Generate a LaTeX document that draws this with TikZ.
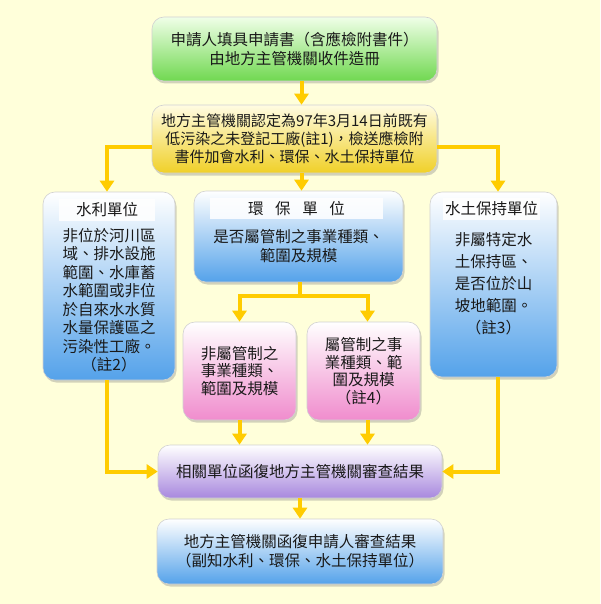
\documentclass[tikz,border=0pt]{standalone}
\usepackage{fontspec}
\newfontfamily\cjk{Noto Sans CJK TC}
\usetikzlibrary{arrows.meta,shadows}
\definecolor{bgy}{RGB}{255,255,218}
\definecolor{arrowy}{RGB}{255,204,0}
\definecolor{txt}{RGB}{25,25,25}
\definecolor{grnB}{RGB}{112,216,80}
\definecolor{grnT}{RGB}{240,255,232}
\definecolor{ylwB}{RGB}{240,208,40}
\definecolor{ylwT}{RGB}{255,252,226}
\definecolor{bluB}{RGB}{84,162,234}
\definecolor{bluM}{RGB}{196,224,250}
\definecolor{pnkB}{RGB}{240,140,205}
\definecolor{pnkM}{RGB}{252,215,236}
\definecolor{purB}{RGB}{168,136,222}
\definecolor{purM}{RGB}{222,206,248}
\pgfdeclareradialshading{bgrad}{\pgfpoint{0bp}{0bp}}{color(0bp)=(bgy); color(36bp)=(bgy); color(72bp)=(white)}
\tikzset{
  box/.style={rounded corners=12pt, draw=black!18, line width=0.6pt, inner sep=0pt,
    align=center, text=txt, font=\cjk\fontsize{15.5}{19}\selectfont,
    drop shadow={opacity=0.35, shadow xshift=1.5pt, shadow yshift=-2.5pt}},
  greenbox/.style={box, top color=grnT, bottom color=grnB},
  yellowbox/.style={box, top color=ylwT, bottom color=ylwB},
  bluebox/.style={box, top color=white, middle color=bluM, bottom color=bluB},
  pinkbox/.style={box, top color=white, middle color=pnkM, bottom color=pnkB},
  purplebox/.style={box, top color=white, middle color=purM, bottom color=purB},
  header/.style={fill=white, fill opacity=0.85, text opacity=1, inner sep=0pt, text=txt,
    font=\cjk\fontsize{15.5}{19}\selectfont},
  bodytext/.style={inner sep=0pt, align=center, text=txt, font=\cjk\fontsize{15.5}{18.5}\selectfont},
  arr/.style={draw=arrowy, line width=4pt, -{Triangle[width=14pt,length=11pt]}, arrowy},
  conn/.style={draw=arrowy, line width=4pt}
}
\begin{document}
\begin{tikzpicture}[x=1pt,y=-1pt]
\useasboundingbox (0,0) rectangle (600,604);
\shade[shading=bgrad] (0,0) rectangle (600,604);

% boxes
\node[greenbox, minimum width=285pt, minimum height=64pt] (b1) at (294.5,49)
  {申請人填具申請書（含應檢附書件）\\由地方主管機關收件造冊};
\node[yellowbox, minimum width=285pt, minimum height=68pt, font=\cjk\fontsize{15}{18}\selectfont] (b2) at (294.5,139)
  {地方主管機關認定為97年3月14日前既有\\低污染之未登記工廠(註1)，檢送應檢附\\書件加會水利、環保、水土保持單位};

\node[bluebox, minimum width=132pt, minimum height=188pt] (wl) at (109,286) {};
\node[header, minimum width=96pt, minimum height=22pt] (wlh) at (107,210) {水利單位};
\node[bodytext] (wlt) at (109,300)
  {非位於河川區\\域、排水設施\\範圍、水庫蓄\\水範圍或非位\\於自來水水質\\水量保護區之\\污染性工廠。\\（註2）};

\node[bluebox, minimum width=209pt, minimum height=91pt] (eb) at (298.5,236.5) {};
\node[header, minimum width=173pt, minimum height=21pt] (ebh) at (296.5,208.5)
  {環\hspace{0.75em}保\hspace{0.75em}單\hspace{0.75em}位};
\node[bodytext] (ebt) at (298.5,246) {是否屬管制之事業種類、\\範圍及規模};

\node[bluebox, minimum width=127pt, minimum height=185pt] (wr) at (493.5,284.5) {};
\node[header, minimum width=97pt, minimum height=22pt] (wrh) at (491.5,209) {水土保持單位};
\node[bodytext, font=\cjk\fontsize{15.5}{22}\selectfont] (wrt) at (493.5,284)
  {非屬特定水\\土保持區、\\是否位於山\\坡地範圍。\\（註3）};

\node[pinkbox, minimum width=113pt, minimum height=98pt, font=\cjk\fontsize{15.5}{17.5}\selectfont] (k1) at (239.5,371)
  {非屬管制之\\事業種類、\\範圍及規模};
\node[pinkbox, minimum width=113pt, minimum height=98pt, font=\cjk\fontsize{15.5}{17.5}\selectfont] (k2) at (363.5,371)
  {屬管制之事\\業種類、範\\圍及規模\\（註4）};

\node[purplebox, minimum width=284pt, minimum height=53pt] (p) at (300,471.5)
  {相關單位函復地方主管機關審查結果};
\node[bluebox, minimum width=286pt, minimum height=65pt] (f) at (300,551.5)
  {地方主管機關函復申請人審查結果\\（副知水利、環保、水土保持單位）};

% connectors
\draw[arr] ([xshift=7pt]b1.south) -- ([xshift=7pt]b2.north);
\draw[arr] ([xshift=7pt]b2.south) -- ([xshift=7pt]b2.south |- eb.north);
\draw[arr] ([yshift=-8pt]b2.west) -| ([xshift=-2pt]wl.north);
\draw[arr] ([yshift=-8pt]b2.east) -| ([xshift=4.5pt]wr.north);
\coordinate (j) at ([xshift=1.5pt, yshift=-14pt]eb.south);
\draw[conn] ([xshift=1.5pt]eb.south) -- (j);
\draw[arr] (j) -| (k1.north);
\draw[arr] (j) -| ([xshift=4pt]k2.north);
\draw[arr] (k1.south) -- (k1.south |- p.north);
\draw[arr] ([xshift=4pt]k2.south) -- ([xshift=4pt]k2.south |- p.north);
\draw[arr] ([xshift=-2pt]wl.south) |- (p.west);
\draw[arr] ([xshift=4.5pt]wr.south) |- (p.east);
\draw[arr] (p.south) -- (f.north);
\end{tikzpicture}
\end{document}
